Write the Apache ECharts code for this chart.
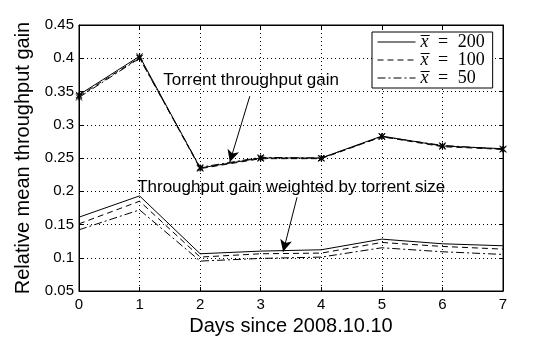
<!DOCTYPE html>
<html>
<head>
<meta charset="utf-8">
<script src="https://cdn.jsdelivr.net/npm/echarts@6/dist/echarts.min.js"></script>
<style>
  html, body { margin: 0; padding: 0; background: #fff; }
  #chart { width: 556px; height: 345px; }
</style>
</head>
<body>
<div id="chart"></div>
<script>
// Days since 2008.10.10
const days = [0, 1, 2, 3, 4, 5, 6, 7];

// Relative mean throughput gain (per torrent)
const gain200 = [0.345, 0.403, 0.235, 0.250, 0.250, 0.283, 0.268, 0.264];
const gain100 = [0.343, 0.401, 0.234, 0.249, 0.249, 0.282, 0.267, 0.263];
const gain50  = [0.341, 0.400, 0.236, 0.251, 0.250, 0.282, 0.269, 0.263];

// Throughput gain weighted by torrent size
const weighted200 = [0.161, 0.193, 0.106, 0.110, 0.112, 0.128, 0.121, 0.118];
const weighted100 = [0.151, 0.185, 0.101, 0.106, 0.107, 0.123, 0.117, 0.113];
const weighted50  = [0.142, 0.172, 0.095, 0.099, 0.101, 0.115, 0.109, 0.105];

const seriesNames = ['x\u0305 = 200', 'x\u0305 = 100', 'x\u0305 = 50'];
const legendLabels = ['200', '100', '50'];

// Annotation texts and arrows, in data coordinates
const noteTorrent = { text: 'Torrent throughput gain', at: [1.39, 0.367] };
const noteWeighted = { text: 'Throughput gain weighted by torrent size', at: [0.96, 0.206] };
const arrowTorrent = [[2.82, 0.343], [2.49, 0.244]];
const arrowWeighted = [[3.60, 0.191], [3.37, 0.109]];

const SANS = '"Liberation Sans", Arial, sans-serif';
const SERIF = '"Liberation Serif", "DejaVu Serif", serif';
const dashed = [6, 4];
const dashDot = [8, 3, 2, 3];
const styles = ['solid', dashed, dashDot];

const pairs = vals => days.map((d, i) => [d, vals[i]]);
const xMark = 'path://M0,0L10,10M10,0L0,10M5,0L5,10';

const chart = echarts.init(document.getElementById('chart'), null, { renderer: 'canvas' });

const weightedSets = [weighted200, weighted100, weighted50];
const gainSets = [gain200, gain100, gain50];

const series = [];
weightedSets.forEach((vals, i) => {
  series.push({
    name: seriesNames[i],
    type: 'line',
    data: pairs(vals),
    symbol: 'none',
    lineStyle: { color: '#000', width: 1, type: styles[i] },
    itemStyle: { color: '#000' },
    animation: false,
    z: 3
  });
});
gainSets.forEach((vals, i) => {
  series.push({
    name: seriesNames[i],
    type: 'line',
    data: pairs(vals),
    symbol: xMark,
    symbolSize: 6,
    showSymbol: true,
    lineStyle: { color: '#000', width: 1, type: styles[i] },
    itemStyle: { color: 'none', borderColor: '#000', borderWidth: 1 },
    animation: false,
    z: 3
  });
});

// Arrows pointing from the notes to the curves
series.push({
  type: 'line',
  data: [],
  silent: true,
  animation: false,
  markLine: {
    silent: true,
    animation: false,
    symbol: ['none', 'arrow'],
    symbolSize: [9, 12],
    label: { show: false },
    lineStyle: { color: '#000', width: 1, type: 'solid' },
    data: [
      [{ coord: arrowTorrent[0] }, { coord: arrowTorrent[1] }],
      [{ coord: arrowWeighted[0] }, { coord: arrowWeighted[1] }]
    ]
  }
});

const fmt = v => String(Math.round(v * 100) / 100);

chart.setOption({
  backgroundColor: '#fff',
  animation: false,
  grid: {
    left: 79, right: 53, top: 25, bottom: 54,
    show: true, borderColor: '#000', borderWidth: 1, backgroundColor: 'transparent'
  },
  legend: {
    data: seriesNames,
    orient: 'vertical',
    left: 372,
    top: 32,
    padding: [1, 8, 1, 5],
    itemWidth: 38,
    itemHeight: 12,
    itemGap: 0,
    backgroundColor: '#fff',
    borderColor: '#000',
    borderWidth: 1,
    borderRadius: 0,
    selectedMode: false,
    itemStyle: { opacity: 0 },
    lineStyle: { width: 1 },
    formatter: name => '{x|x\u0305}{eq| = }{n|' + legendLabels[seriesNames.indexOf(name)] + '}',
    textStyle: {
      lineHeight: 16,
      rich: {
        x: { fontFamily: SERIF, fontStyle: 'italic', fontSize: 18, lineHeight: 16, color: '#000' },
        eq: { fontFamily: SERIF, fontSize: 18, lineHeight: 16, color: '#000', padding: [0, 5] },
        n: { fontFamily: SERIF, fontSize: 18, lineHeight: 16, color: '#000' }
      }
    }
  },
  xAxis: [{
    type: 'value', min: 0, max: 7, interval: 1,
    name: 'Days since 2008.10.10',
    nameLocation: 'middle', nameGap: 24,
    nameTextStyle: { fontFamily: SANS, fontSize: 20, color: '#000' },
    axisLine: { show: true, onZero: false, lineStyle: { color: '#000', width: 1 } },
    axisTick: { show: true, inside: true, length: 4, lineStyle: { color: '#000' } },
    axisLabel: { fontFamily: SANS, fontSize: 15, color: '#000', margin: 6 },
    splitLine: { show: true, lineStyle: { color: '#000', width: 1, type: [1, 3] } }
  }, {
    type: 'value', min: 0, max: 7, interval: 1, position: 'top',
    axisLine: { show: true, onZero: false, lineStyle: { color: '#000', width: 1 } },
    axisTick: { show: true, inside: true, length: 4, lineStyle: { color: '#000' } },
    axisLabel: { show: false },
    splitLine: { show: false }
  }],
  yAxis: [{
    type: 'value', min: 0.05, max: 0.45, interval: 0.05,
    name: 'Relative mean throughput gain',
    nameLocation: 'middle', nameGap: 42,
    nameTextStyle: { fontFamily: SANS, fontSize: 20, color: '#000' },
    axisLine: { show: true, onZero: false, lineStyle: { color: '#000', width: 1 } },
    axisTick: { show: true, inside: true, length: 4, lineStyle: { color: '#000' } },
    axisLabel: { fontFamily: SANS, fontSize: 15, color: '#000', margin: 5, formatter: fmt },
    splitLine: { show: true, lineStyle: { color: '#000', width: 1, type: [1, 3] } }
  }, {
    type: 'value', min: 0.05, max: 0.45, interval: 0.05, position: 'right',
    axisLine: { show: true, onZero: false, lineStyle: { color: '#000', width: 1 } },
    axisTick: { show: true, inside: true, length: 4, lineStyle: { color: '#000' } },
    axisLabel: { show: false },
    splitLine: { show: false }
  }],
  series: series
});

// Place the note texts at their data positions
function placeNotes() {
  const notes = [noteTorrent, noteWeighted].map(n => {
    const p = chart.convertToPixel({ xAxisIndex: 0, yAxisIndex: 0 }, n.at);
    return {
      type: 'text',
      x: p[0], y: p[1],
      z: 10,
      style: {
        text: n.text,
        fontFamily: SANS, fontSize: 17, fill: '#000',
        backgroundColor: 'transparent',
        verticalAlign: 'middle', align: 'left'
      }
    };
  });
  chart.setOption({ graphic: notes });
}
placeNotes();
</script>
</body>
</html>
